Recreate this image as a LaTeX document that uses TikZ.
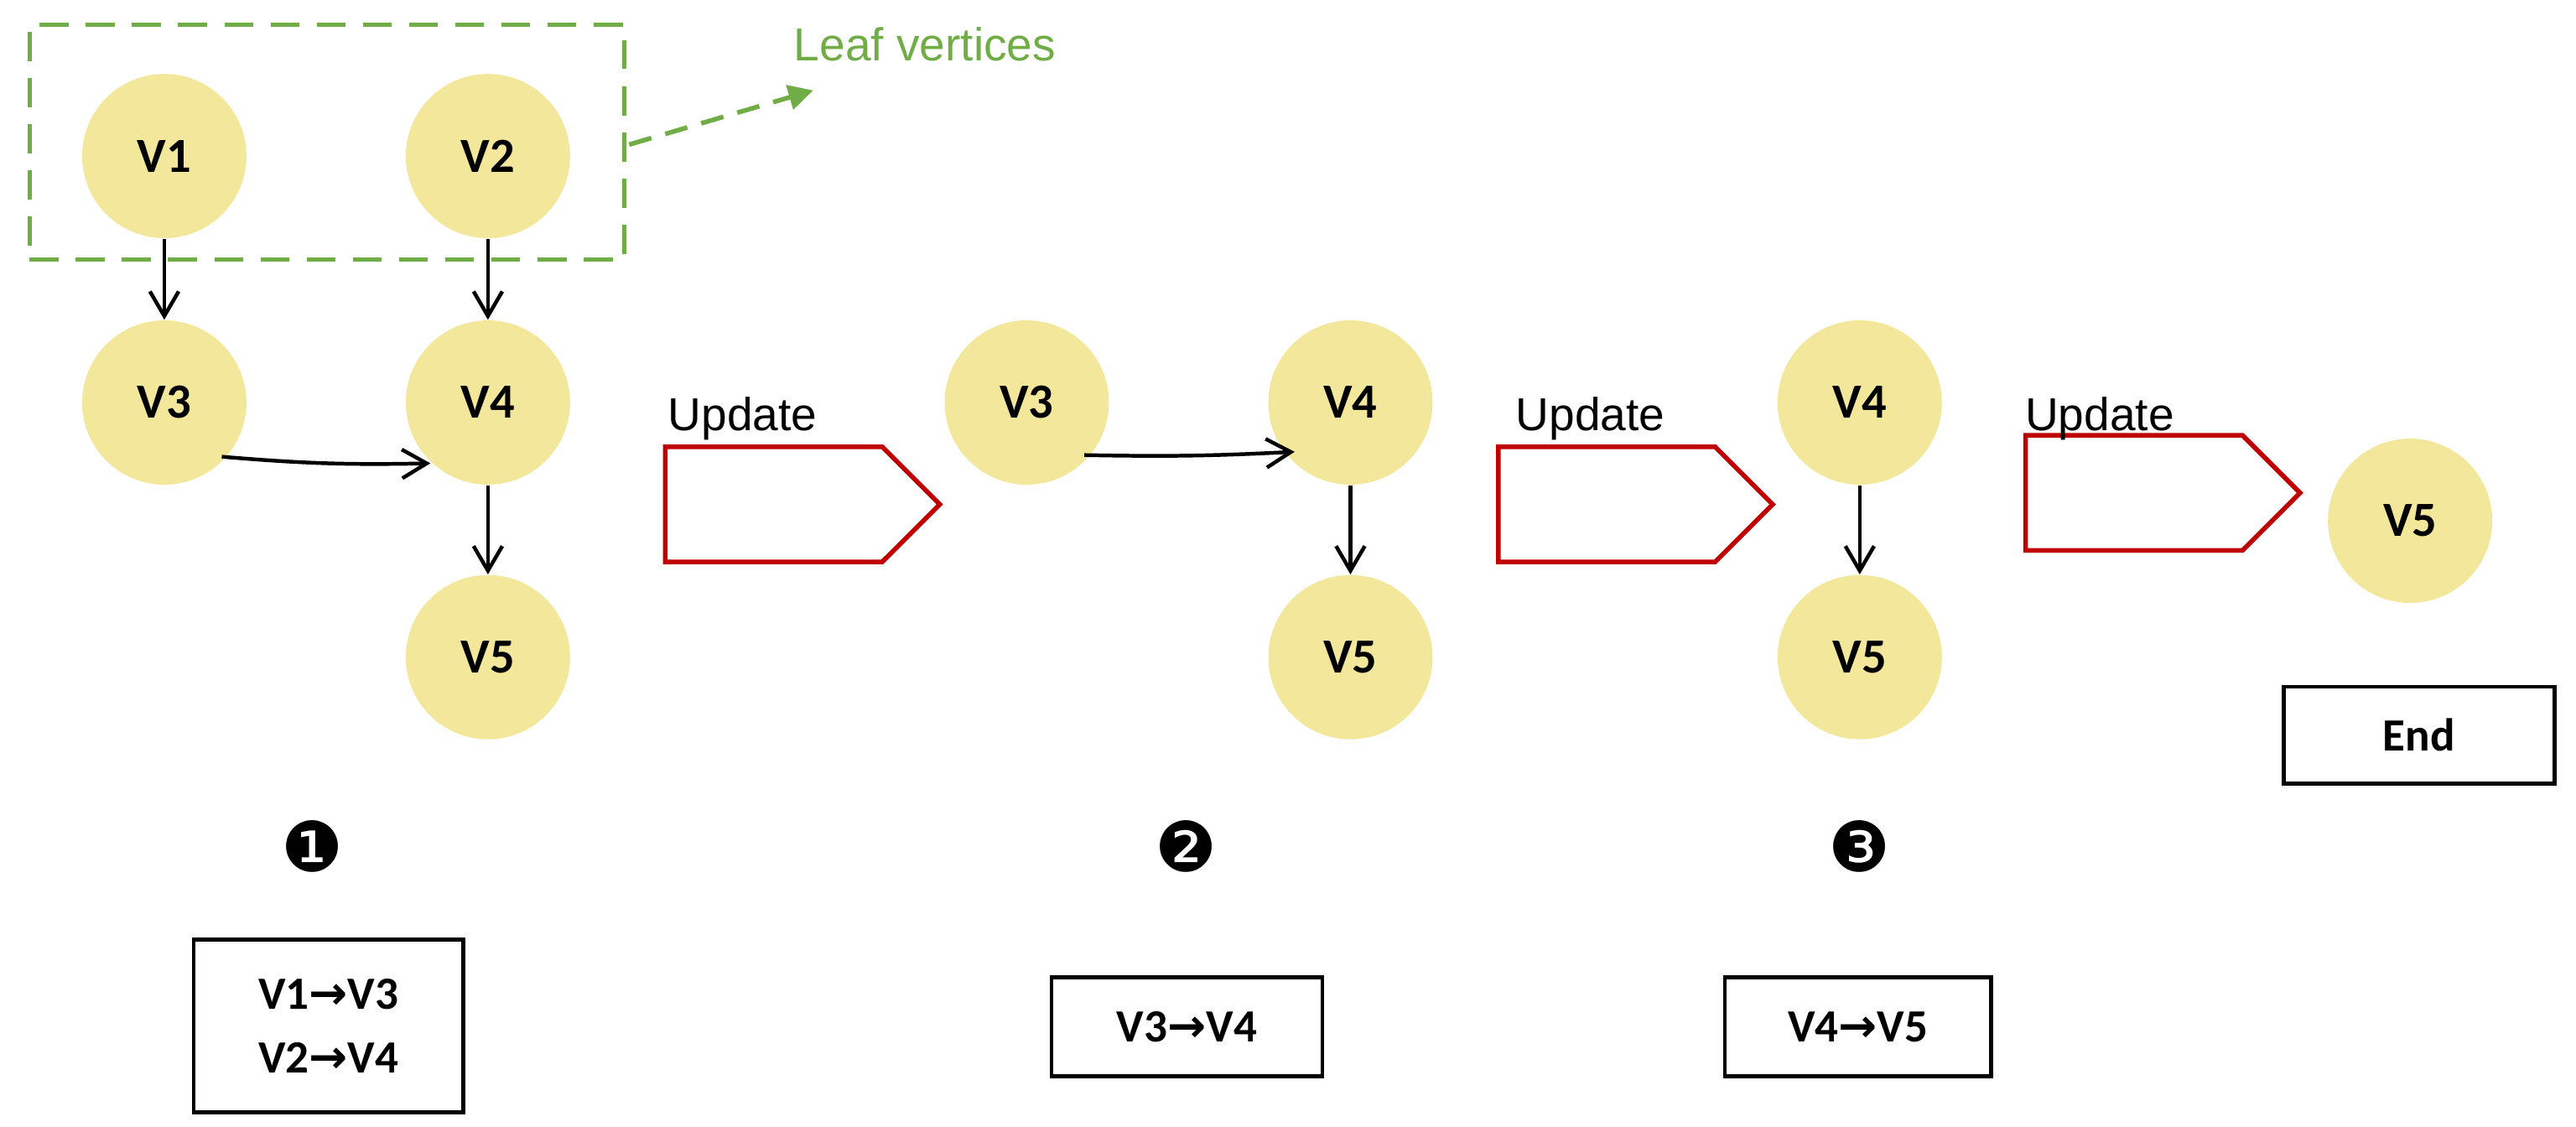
\documentclass[tikz,border=0pt]{standalone}
\usepackage{fontspec}
\setmainfont{Carlito}
\newfontfamily\lib{Liberation Sans}
\newfontfamily\dej{DejaVu Sans}
\usetikzlibrary{shapes.arrows,arrows.meta}
\definecolor{vy}{HTML}{F3E79C}
\definecolor{lg}{HTML}{70AD47}
\definecolor{rd}{HTML}{C00000}
\newcommand{\arr}{{\dej\bfseries →}}
\begin{document}
\begin{tikzpicture}[x=0.02cm,y=-0.02cm,
 v/.style={circle,fill=vy,minimum size=100*0.02cm,inner sep=0pt,font=\fontsize{17}{20}\selectfont\bfseries},
 e/.style={line width=1.3pt,-{Straight Barb[length=3mm,width=3.5mm]}},
 ua/.style={single arrow,draw=rd,fill=white,line width=1.6pt,minimum height=167*0.02cm,minimum width=70*0.02cm,single arrow head extend=0pt,inner sep=0pt,shape border uses incircle=false},
 up/.style={font=\lib\fontsize{16}{19}\selectfont},
 bx/.style={draw,line width=1.3pt,font=\fontsize{16}{22}\selectfont\bfseries,align=left,inner sep=0pt},
 num/.style={font=\dej\fontsize{24}{26}\selectfont}]
\useasboundingbox (0,0) rectangle (1568,686);
% panel 1
\node[v] (a1) at (100,95) {V1};
\node[v] (a2) at (297,95) {V2};
\node[v] (a3) at (100,245) {V3};
\node[v] (a4) at (297,245) {V4};
\node[v] (a5) at (297,400) {V5};
\draw[e] (a1) -- (a3);
\draw[e] (a2) -- (a4);
\draw[e] (135,278) to[bend right=3] (262,282);
\draw[e] (a4) -- (a5);
\node[draw=lg,dashed,line width=1.6pt,dash pattern=on 10pt off 6pt,minimum width=362*0.02cm,minimum height=143*0.02cm] (leaf) at (199,86.5) {};
\coordinate (lt) at (495,55);
\draw[lg,line width=1.6pt,dash pattern=on 8pt off 5pt,-{Triangle[length=3mm,width=3mm]}] (383,88) -- (lt);
\node[lg,font=\lib\fontsize{16}{19}\selectfont] (lv) at (563,27) {Leaf vertices};
% panel 2
\node[v] (b3) at (625,245) {V3};
\node[v] (b4) at (822,245) {V4};
\node[v] (b5) at (822,400) {V5};
\draw[e] (660,277) to[bend right=2] (788,275);
\draw[e] (b4) -- (b5);
% panel 3
\node[v] (c4) at (1132,245) {V4};
\node[v] (c5) at (1132,400) {V5};
\draw[e] (c4) -- (c5);
% panel 4
\node[v] (d5) at (1467,317) {V5};
% update arrows
\node[ua] (u1) at (471,307) {};
\node[ua] (u2) at (978,307) {};
\node[ua] (u3) at (1299,300) {};
\node[up] (t1) at (452,255) {Update};
\node[up] (t2) at (968,255) {Update};
\node[up] (t3) at (1278,255) {Update};
% numbers
\node[num] (n1) at (190,515) {❶};
\node[num] (n2) at (722,515) {❷};
\node[num] (n3) at (1132,515) {❸};
% boxes
\node[bx,minimum width=164*0.02cm,minimum height=105*0.02cm] (k1) at (200,624.5) {V1\arr V3\\V2\arr V4};
\node[bx,minimum width=165*0.02cm,minimum height=60*0.02cm] (k2) at (722.5,625) {V3\arr V4};
\node[bx,minimum width=162*0.02cm,minimum height=60*0.02cm] (k3) at (1131,625) {V4\arr V5};
\node[bx,minimum width=165*0.02cm,minimum height=59*0.02cm] (k4) at (1472.5,447.5) {End};
\end{tikzpicture}
\end{document}
